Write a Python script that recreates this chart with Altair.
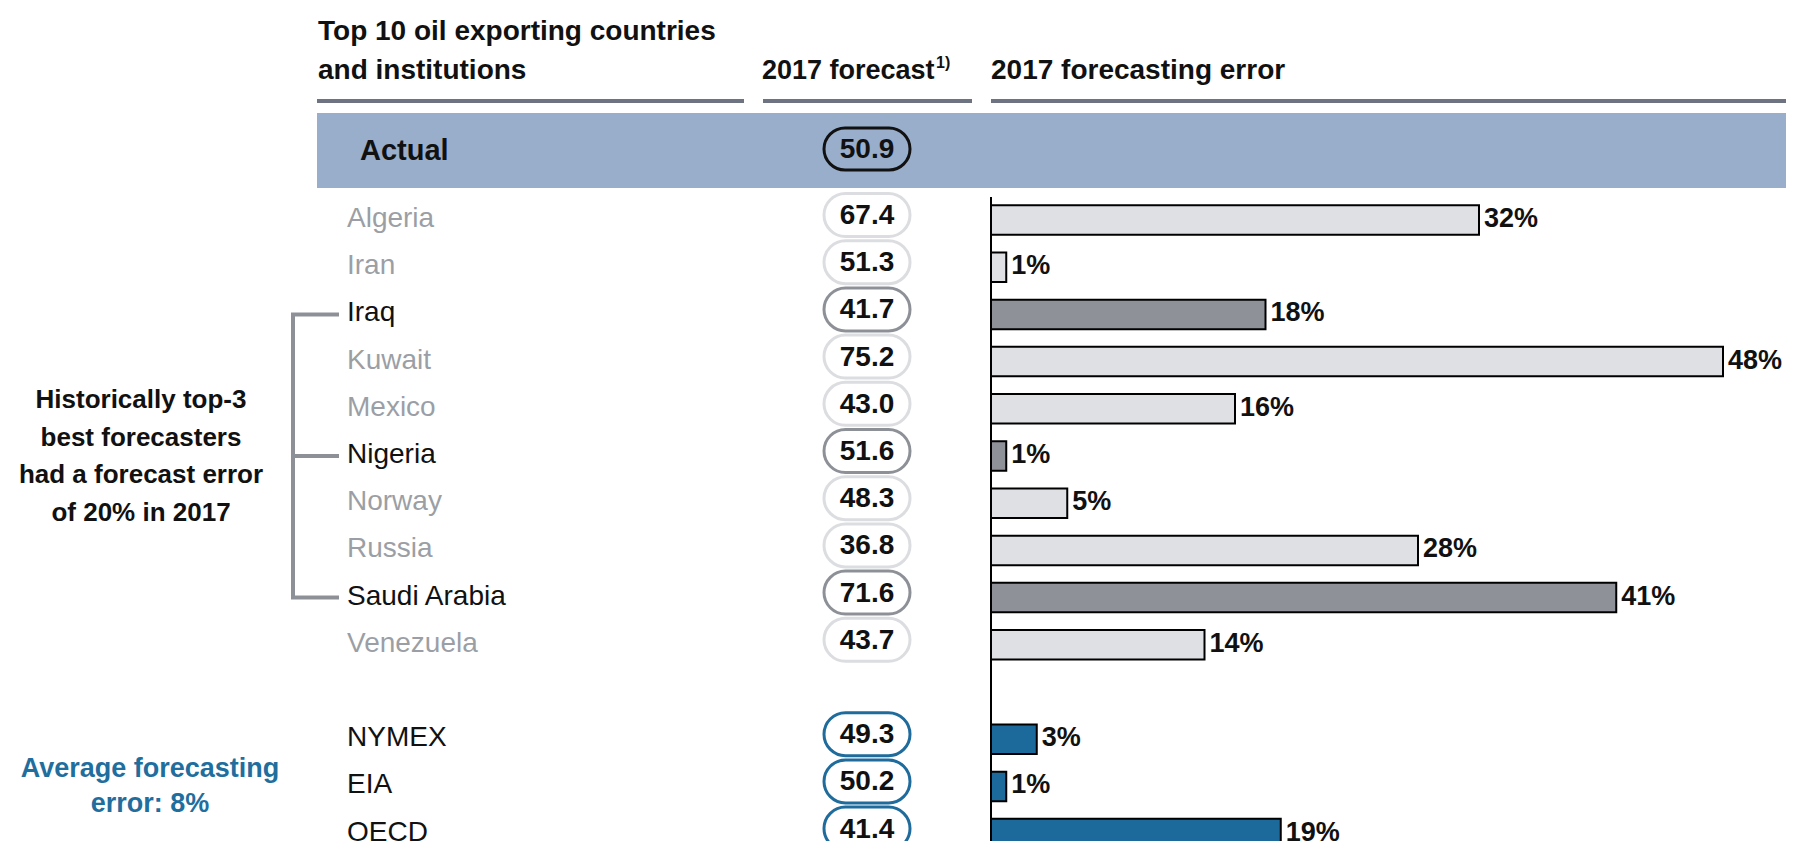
import altair as alt
import pandas as pd

# ---------------- data ----------------
COUNTRIES = ["Algeria", "Iran", "Iraq", "Kuwait", "Mexico", "Nigeria",
             "Norway", "Russia", "Saudi Arabia", "Venezuela"]
COUNTRY_FORECAST = [67.4, 51.3, 41.7, 75.2, 43.0, 51.6, 48.3, 36.8, 71.6, 43.7]
COUNTRY_ERROR = [32, 1, 18, 48, 16, 1, 5, 28, 41, 14]
TOP3 = ["Iraq", "Nigeria", "Saudi Arabia"]

INSTITUTIONS = ["NYMEX", "EIA", "OECD"]
INST_FORECAST = [49.3, 50.2, 41.4]
INST_ERROR = [3, 1, 19]

ACTUAL_LABEL = "Actual"
ACTUAL_VALUE = 50.9

HEADER_1 = ["Top 10 oil exporting countries", "and institutions"]
HEADER_2 = "2017 forecast"
HEADER_2_SUP = "1)"
HEADER_3 = "2017 forecasting error"
NOTE_TOP3 = ["Historically top-3", "best forecasters", "had a forecast error", "of 20% in 2017"]
NOTE_INST = ["Average forecasting", "error: 8%"]

# ---------------- tables ----------------
rows = []
for c, f, e in zip(COUNTRIES, COUNTRY_FORECAST, COUNTRY_ERROR):
    rows.append({"row": c, "forecast": f, "err": e, "group": "top3" if c in TOP3 else "other"})
for c, f, e in zip(INSTITUTIONS, INST_FORECAST, INST_ERROR):
    rows.append({"row": c, "forecast": f, "err": e, "group": "inst"})
df = pd.DataFrame(rows)
ROW_DOMAIN = COUNTRIES + [" "] + INSTITUTIONS
act_df = pd.DataFrame({"row": [ACTUAL_LABEL], "forecast": [ACTUAL_VALUE]})
top3_df = df[df["group"] == "top3"]
bracket_df = pd.DataFrame({"row": [TOP3[0]], "row2": [TOP3[-1]]})
one = alt.Data(values=[{"k": 1}])

# ---------------- layout / style ----------------
W, H = 1778, 833
FONT = "Liberation Sans"
GROUPS = ["other", "top3", "inst"]
BAR_FILL = ["#dfe0e4", "#8e9298", "#1b6a9b"]
PILL_STROKE = ["#dcdde0", "#8d9197", "#1e6b9c"]
GRAY_TXT = "#9b9fa5"
BRACKET = "#8d9197"
BAND = "#98aecb"
RULE = "#6d7380"
BLUE = "#1f6e9e"
INK = "#111111"
STEP = 47.2
FIRST = 212
N = len(ROW_DOMAIN)

y_scale = alt.Scale(type="band", domain=ROW_DOMAIN,
                    range=[FIRST - STEP / 2, FIRST - STEP / 2 + STEP * N],
                    paddingInner=0, paddingOuter=0)
x_scale = alt.Scale(domain=[0, 48], range=[983, 983 + 48 * 15.25], nice=False, zero=True)
Y = alt.Y("row:N", scale=y_scale, axis=None)


def htext(txt, x, y, size=28):
    return alt.Chart(one).mark_text(text=txt, align="left", baseline="middle", font=FONT,
                                    fontSize=size, fontWeight="bold", color=INK).encode(
        x=alt.value(x), y=alt.value(y))


def hrule(x1, x2, y):
    return alt.Chart(one).mark_rule(color=RULE, strokeWidth=4).encode(
        x=alt.value(x1), x2=alt.value(x2), y=alt.value(y))


# ---------------- header ----------------
h1 = htext(HEADER_1[0], 310, 24)
h2 = htext(HEADER_1[1], 310, 63)
h3 = htext(HEADER_2, 754, 63, size=27)
sup = htext(HEADER_2_SUP, 928, 55, size=16)
h4 = htext(HEADER_3, 983, 63)
r1 = hrule(309, 736, 93)
r2 = hrule(755, 964, 93)
r3 = hrule(983, W, 93)

# ---------------- actual row ----------------
act_band = alt.Chart(act_df).mark_rect(color=BAND).encode(
    x=alt.value(309), x2=alt.value(W), y=alt.value(105), y2=alt.value(180))
act_text = alt.Chart(act_df).mark_text(align="left", baseline="middle", font=FONT, fontSize=29,
                                       fontWeight="bold", color=INK).encode(
    x=alt.value(352), y=alt.value(143), text="row:N")
act_pill = alt.Chart(act_df).mark_rect(cornerRadius=21, stroke=INK, strokeWidth=3, fill=BAND).encode(
    x=alt.value(816), x2=alt.value(902), y=alt.value(120), y2=alt.value(162))
act_num = alt.Chart(act_df).mark_text(align="center", baseline="middle", font=FONT, fontSize=28,
                                      fontWeight="bold", color=INK).encode(
    x=alt.value(859), y=alt.value(142), text=alt.Text("forecast:Q", format=".1f"))

# ---------------- main rows ----------------
base = alt.Chart(df)
bars = base.mark_bar(stroke="black", strokeWidth=2, height=29.5).encode(
    x=alt.X("err:Q", scale=x_scale, axis=None, stack=None), y=Y,
    fill=alt.Fill("group:N", scale=alt.Scale(domain=GROUPS, range=BAR_FILL), legend=None))
pct = base.transform_calculate(lbl="datum.err + '%'").mark_text(
    align="left", baseline="middle", font=FONT, fontSize=27, fontWeight="bold",
    color=INK, dx=5, dy=-1).encode(
    x=alt.X("err:Q", scale=x_scale, axis=None), y=Y, text="lbl:N")
zero = alt.Chart(one).mark_rule(color="black", strokeWidth=2).encode(
    x=alt.datum(0), y=alt.value(189), y2=alt.value(H))
pills = base.mark_bar(cornerRadius=21.5, strokeWidth=3, fill="white", height=43, yOffset=-5).encode(
    x=alt.value(816), x2=alt.value(902), y=Y,
    stroke=alt.Stroke("group:N", scale=alt.Scale(domain=GROUPS, range=PILL_STROKE), legend=None))
pill_nums = base.mark_text(align="center", baseline="middle", font=FONT, fontSize=28,
                           fontWeight="bold", color=INK, dy=-4).encode(
    x=alt.value(859), y=Y, text=alt.Text("forecast:Q", format=".1f"))
names = base.mark_text(align="left", baseline="middle", font=FONT, fontSize=28, dy=-1).encode(
    x=alt.value(339), y=Y, text="row:N",
    color=alt.condition("datum.group == 'other'", alt.value(GRAY_TXT), alt.value(INK)))

# bracket around the historically best forecasters
br_v = alt.Chart(bracket_df).mark_rule(color=BRACKET, strokeWidth=4).encode(
    x=alt.value(285), y=Y, y2="row2:N")
br_h = alt.Chart(top3_df).mark_rule(color=BRACKET, strokeWidth=4).encode(
    x=alt.value(283), x2=alt.value(331), y=Y)

note1 = alt.Chart(one).mark_text(text=NOTE_TOP3, align="center", baseline="middle", font=FONT,
                                 fontSize=26, fontWeight="bold", color=INK,
                                 lineHeight=37.5).encode(x=alt.value(133), y=alt.value(392))
note2 = alt.Chart(one).mark_text(text=NOTE_INST, align="center", baseline="middle", font=FONT,
                                 fontSize=27, fontWeight="bold", color=BLUE,
                                 lineHeight=35).encode(x=alt.value(142), y=alt.value(761))

chart = alt.layer(
    h1, h2, h3, sup, h4, r1, r2, r3,
    act_band, act_text, act_pill, act_num,
    bars, pct, zero, pills, pill_nums, names, br_v, br_h, note1, note2
).properties(
    width=W, height=H, padding=0, autosize=alt.AutoSizeParams(type="none")
).configure_view(stroke=None)

chart.save("out.html", embed_options={"renderer": "svg", "actions": False})
